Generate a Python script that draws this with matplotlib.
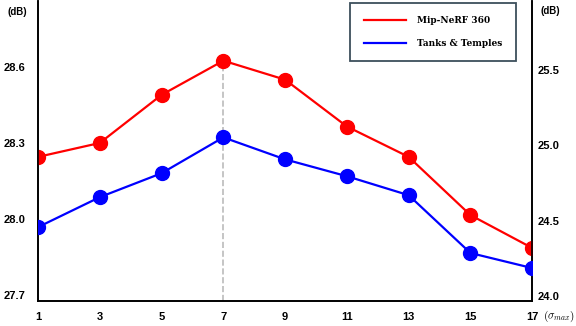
import numpy as np
import matplotlib
matplotlib.use("Agg")
import matplotlib.pyplot as plt

# sigma_max values on the x axis
sigma_max = [1, 3, 5, 7, 9, 11, 13, 15, 17]

# PSNR (dB)
mipnerf360 = [28.245, 28.30, 28.49, 28.625, 28.55, 28.365, 28.245, 28.015, 27.885]
tanks_temples = [24.457, 24.656, 24.815, 25.053, 24.907, 24.795, 24.669, 24.285, 24.185]

left_ticks = [27.7, 28.0, 28.3, 28.6]
right_ticks = [24.0, 24.5, 25.0, 25.5]
best_sigma = 7

plt.rcParams['font.family'] = ['Liberation Sans', 'DejaVu Sans']
plt.rcParams['mathtext.fontset'] = 'cm'

fig = plt.figure(figsize=(5.76, 3.26), dpi=100)
ax = fig.add_axes([0.066, 0.077, 0.858, 0.92])
ax2 = ax.twinx()

line1, = ax.plot(sigma_max, mipnerf360, color='#ff0000', lw=1.6, marker='o',
                 markersize=10, label='Mip-NeRF 360', zorder=3)
line2, = ax2.plot(sigma_max, tanks_temples, color='#0000ff', lw=1.6, marker='o',
                  markersize=10, label='Tanks & Temples', zorder=3)

# dashed guide at the best sigma
peak = mipnerf360[sigma_max.index(best_sigma)]
ax.plot([best_sigma, best_sigma], [27.676, peak], ls='--', color='#bbbbbb', lw=1.2, zorder=1)

ax.set_xlim(1, 17)
ax.set_ylim(27.676, 28.861)
ax2.set_ylim(23.967, 25.959)

ax.set_xticks(sigma_max)
ax.set_xticklabels([str(s) for s in sigma_max], fontsize=8, fontweight='bold')
ax.set_yticks(left_ticks)
ax.set_yticklabels(['%.1f' % t for t in left_ticks], fontsize=8, fontweight='bold')
ax2.set_yticks(right_ticks)
ax2.set_yticklabels(['%.1f' % t for t in right_ticks], fontsize=8, fontweight='bold')

ax.tick_params(axis='x', length=0, pad=8)
ax.tick_params(axis='y', length=0, pad=9)
ax2.tick_params(axis='y', length=0, pad=4)

for a in (ax, ax2):
    a.spines['top'].set_visible(False)
    for s in ('left', 'right', 'bottom'):
        a.spines[s].set_linewidth(1.2)
        a.spines[s].set_color('black')

ax.text(-0.0415, 0.963, '(dB)', transform=ax.transAxes, fontsize=7, fontweight='bold',
        ha='center', va='center')
ax2.text(1.036, 0.967, '(dB)', transform=ax.transAxes, fontsize=7, fontweight='bold',
         ha='center', va='center')
ax.text(1.055, -0.052, r'$(\sigma_{max})$', transform=ax.transAxes, fontsize=8,
        ha='center', va='center')

leg = ax2.legend(handles=[line1, line2], loc='upper right', bbox_to_anchor=(0.971, 1.0),
                 frameon=True, fancybox=False, edgecolor='#3d4f5c', framealpha=1,
                 prop={'family': 'DejaVu Serif', 'weight': 'bold', 'size': 6.5},
                 handlelength=4.6, handletextpad=1.3, borderpad=1.5, labelspacing=1.5,
                 borderaxespad=0.2)
leg.get_frame().set_linewidth(1.3)
for h in leg.legend_handles:
    h.set_marker('')

fig.savefig('out.png', dpi=100)
